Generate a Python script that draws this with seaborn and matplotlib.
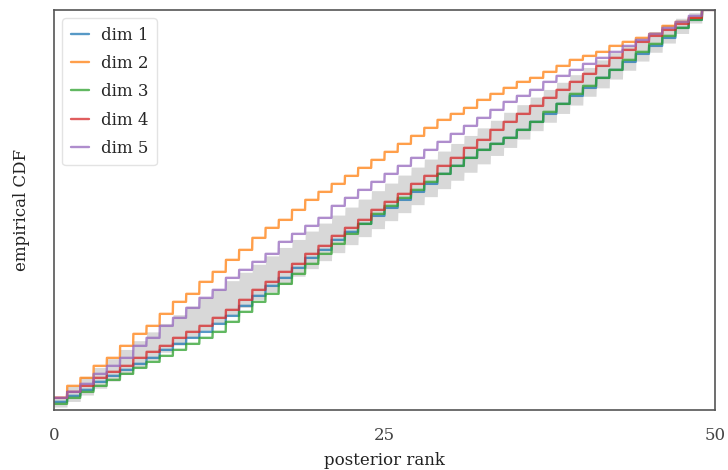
import numpy as np
import pandas as pd
import matplotlib
matplotlib.use("Agg")
import matplotlib.pyplot as plt
import seaborn as sns

# Empirical CDF of SBC ranks (50 bins) for each parameter dimension
num_bins = 50
dim_labels = ["dim 1", "dim 2", "dim 3", "dim 4", "dim 5"]

cdf_dim1 = [0.02, 0.035, 0.05, 0.07, 0.085, 0.10, 0.115, 0.13, 0.15, 0.165,
            0.18, 0.195, 0.215, 0.235, 0.26, 0.285, 0.31, 0.33, 0.355, 0.38,
            0.40, 0.425, 0.445, 0.465, 0.485, 0.505, 0.525, 0.545, 0.565, 0.59,
            0.61, 0.63, 0.65, 0.665, 0.68, 0.70, 0.72, 0.74, 0.765, 0.785,
            0.805, 0.83, 0.85, 0.87, 0.89, 0.91, 0.93, 0.955, 0.975, 1.0]
cdf_dim2 = [0.03, 0.06, 0.08, 0.11, 0.13, 0.16, 0.19, 0.21, 0.24, 0.27,
            0.29, 0.32, 0.345, 0.375, 0.40, 0.43, 0.455, 0.475, 0.50, 0.525,
            0.545, 0.565, 0.585, 0.605, 0.625, 0.645, 0.665, 0.685, 0.705, 0.725,
            0.74, 0.755, 0.775, 0.79, 0.805, 0.82, 0.83, 0.845, 0.86, 0.875,
            0.885, 0.895, 0.91, 0.92, 0.93, 0.94, 0.96, 0.97, 0.98, 1.0]
cdf_dim3 = [0.015, 0.03, 0.045, 0.06, 0.075, 0.09, 0.105, 0.12, 0.135, 0.15,
            0.165, 0.18, 0.195, 0.22, 0.245, 0.27, 0.29, 0.315, 0.34, 0.365,
            0.39, 0.415, 0.44, 0.465, 0.49, 0.51, 0.53, 0.55, 0.57, 0.59,
            0.61, 0.63, 0.65, 0.665, 0.68, 0.70, 0.72, 0.745, 0.765, 0.79,
            0.81, 0.83, 0.85, 0.875, 0.895, 0.915, 0.935, 0.955, 0.975, 1.0]
cdf_dim4 = [0.03, 0.045, 0.06, 0.08, 0.095, 0.11, 0.13, 0.145, 0.16, 0.18,
            0.195, 0.21, 0.23, 0.25, 0.275, 0.30, 0.32, 0.345, 0.365, 0.39,
            0.41, 0.435, 0.455, 0.475, 0.50, 0.52, 0.54, 0.565, 0.585, 0.61,
            0.63, 0.655, 0.675, 0.70, 0.72, 0.74, 0.76, 0.78, 0.80, 0.82,
            0.84, 0.86, 0.88, 0.90, 0.92, 0.935, 0.95, 0.965, 0.98, 1.0]
cdf_dim5 = [0.03, 0.045, 0.065, 0.09, 0.11, 0.13, 0.16, 0.18, 0.21, 0.23,
            0.255, 0.28, 0.30, 0.33, 0.35, 0.37, 0.39, 0.42, 0.44, 0.46,
            0.48, 0.51, 0.53, 0.55, 0.57, 0.59, 0.61, 0.63, 0.65, 0.67,
            0.69, 0.71, 0.73, 0.75, 0.77, 0.785, 0.80, 0.82, 0.835, 0.85,
            0.865, 0.88, 0.895, 0.91, 0.925, 0.94, 0.955, 0.97, 0.985, 1.0]

# 99% region expected under uniform ranks
band_lower = [0.007, 0.021, 0.037, 0.054, 0.072, 0.089, 0.107, 0.125, 0.144, 0.162,
              0.181, 0.199, 0.218, 0.237, 0.256, 0.276, 0.295, 0.314, 0.334, 0.353,
              0.373, 0.393, 0.413, 0.433, 0.453, 0.473, 0.493, 0.513, 0.533, 0.553,
              0.574, 0.594, 0.615, 0.636, 0.656, 0.677, 0.698, 0.719, 0.741, 0.762,
              0.784, 0.805, 0.827, 0.849, 0.872, 0.894, 0.917, 0.941, 0.967, 1.0]
band_upper = [0.033, 0.059, 0.083, 0.106, 0.128, 0.151, 0.173, 0.195, 0.216, 0.238,
              0.259, 0.281, 0.302, 0.323, 0.344, 0.364, 0.385, 0.406, 0.426, 0.447,
              0.467, 0.487, 0.507, 0.527, 0.548, 0.567, 0.587, 0.607, 0.627, 0.647,
              0.666, 0.686, 0.705, 0.724, 0.744, 0.763, 0.782, 0.801, 0.819, 0.838,
              0.856, 0.875, 0.893, 0.911, 0.928, 0.946, 0.963, 0.979, 0.993, 1.0]

x_ticks = [0, 25, 50]
y_ticks = [0.0, 0.5, 1.0]

repeats = 50
x_fine = np.linspace(0, num_bins, repeats * num_bins)

sns.set_theme(style="white")
plt.rcParams["font.family"] = ["DejaVu Serif"]

frames = []
for label, cdf in zip(dim_labels,
                      [cdf_dim1, cdf_dim2, cdf_dim3, cdf_dim4, cdf_dim5]):
    frames.append(pd.DataFrame({
        "rank": x_fine,
        "cdf": np.repeat(np.asarray(cdf), repeats),
        "dimension": label,
    }))
df = pd.concat(frames, ignore_index=True)

fig = plt.figure(figsize=(7.28, 4.70), dpi=100)
ax = fig.add_axes([0.0742, 0.128, 0.908, 0.851])

sns.lineplot(data=df, x="rank", y="cdf", hue="dimension",
             palette=sns.color_palette("tab10", 5), estimator=None,
             sort=False, linewidth=1.7, alpha=0.75, ax=ax)

ax.fill_between(x_fine,
                np.repeat(np.asarray(band_lower), repeats),
                np.repeat(np.asarray(band_upper), repeats),
                color="gray", alpha=0.3, linewidth=0)

ax.set_xlim(0, num_bins)
ax.set_ylim(0, 1)
ax.set_xticks(x_ticks)
ax.set_xticklabels([str(t) for t in x_ticks])
ax.set_yticks(y_ticks)
ax.set_yticklabels([])
ax.tick_params(direction="in", length=3, width=0.8, colors="#444444",
               labelsize=12)
ax.tick_params(axis="x", pad=12)
for side in ax.spines.values():
    side.set_color("#555555")
    side.set_linewidth(1.2)

ax.set_xlabel("posterior rank", fontsize=12, color="#222222", labelpad=6)
ax.set_ylabel("empirical CDF", fontsize=12, color="#222222", labelpad=14)

leg = ax.legend(loc="upper left", fontsize=12, frameon=True,
                handlelength=1.1, handletextpad=0.7, borderpad=0.5,
                labelspacing=0.68)
leg.get_frame().set_edgecolor("#dddddd")

fig.savefig("out.png", dpi=100)
